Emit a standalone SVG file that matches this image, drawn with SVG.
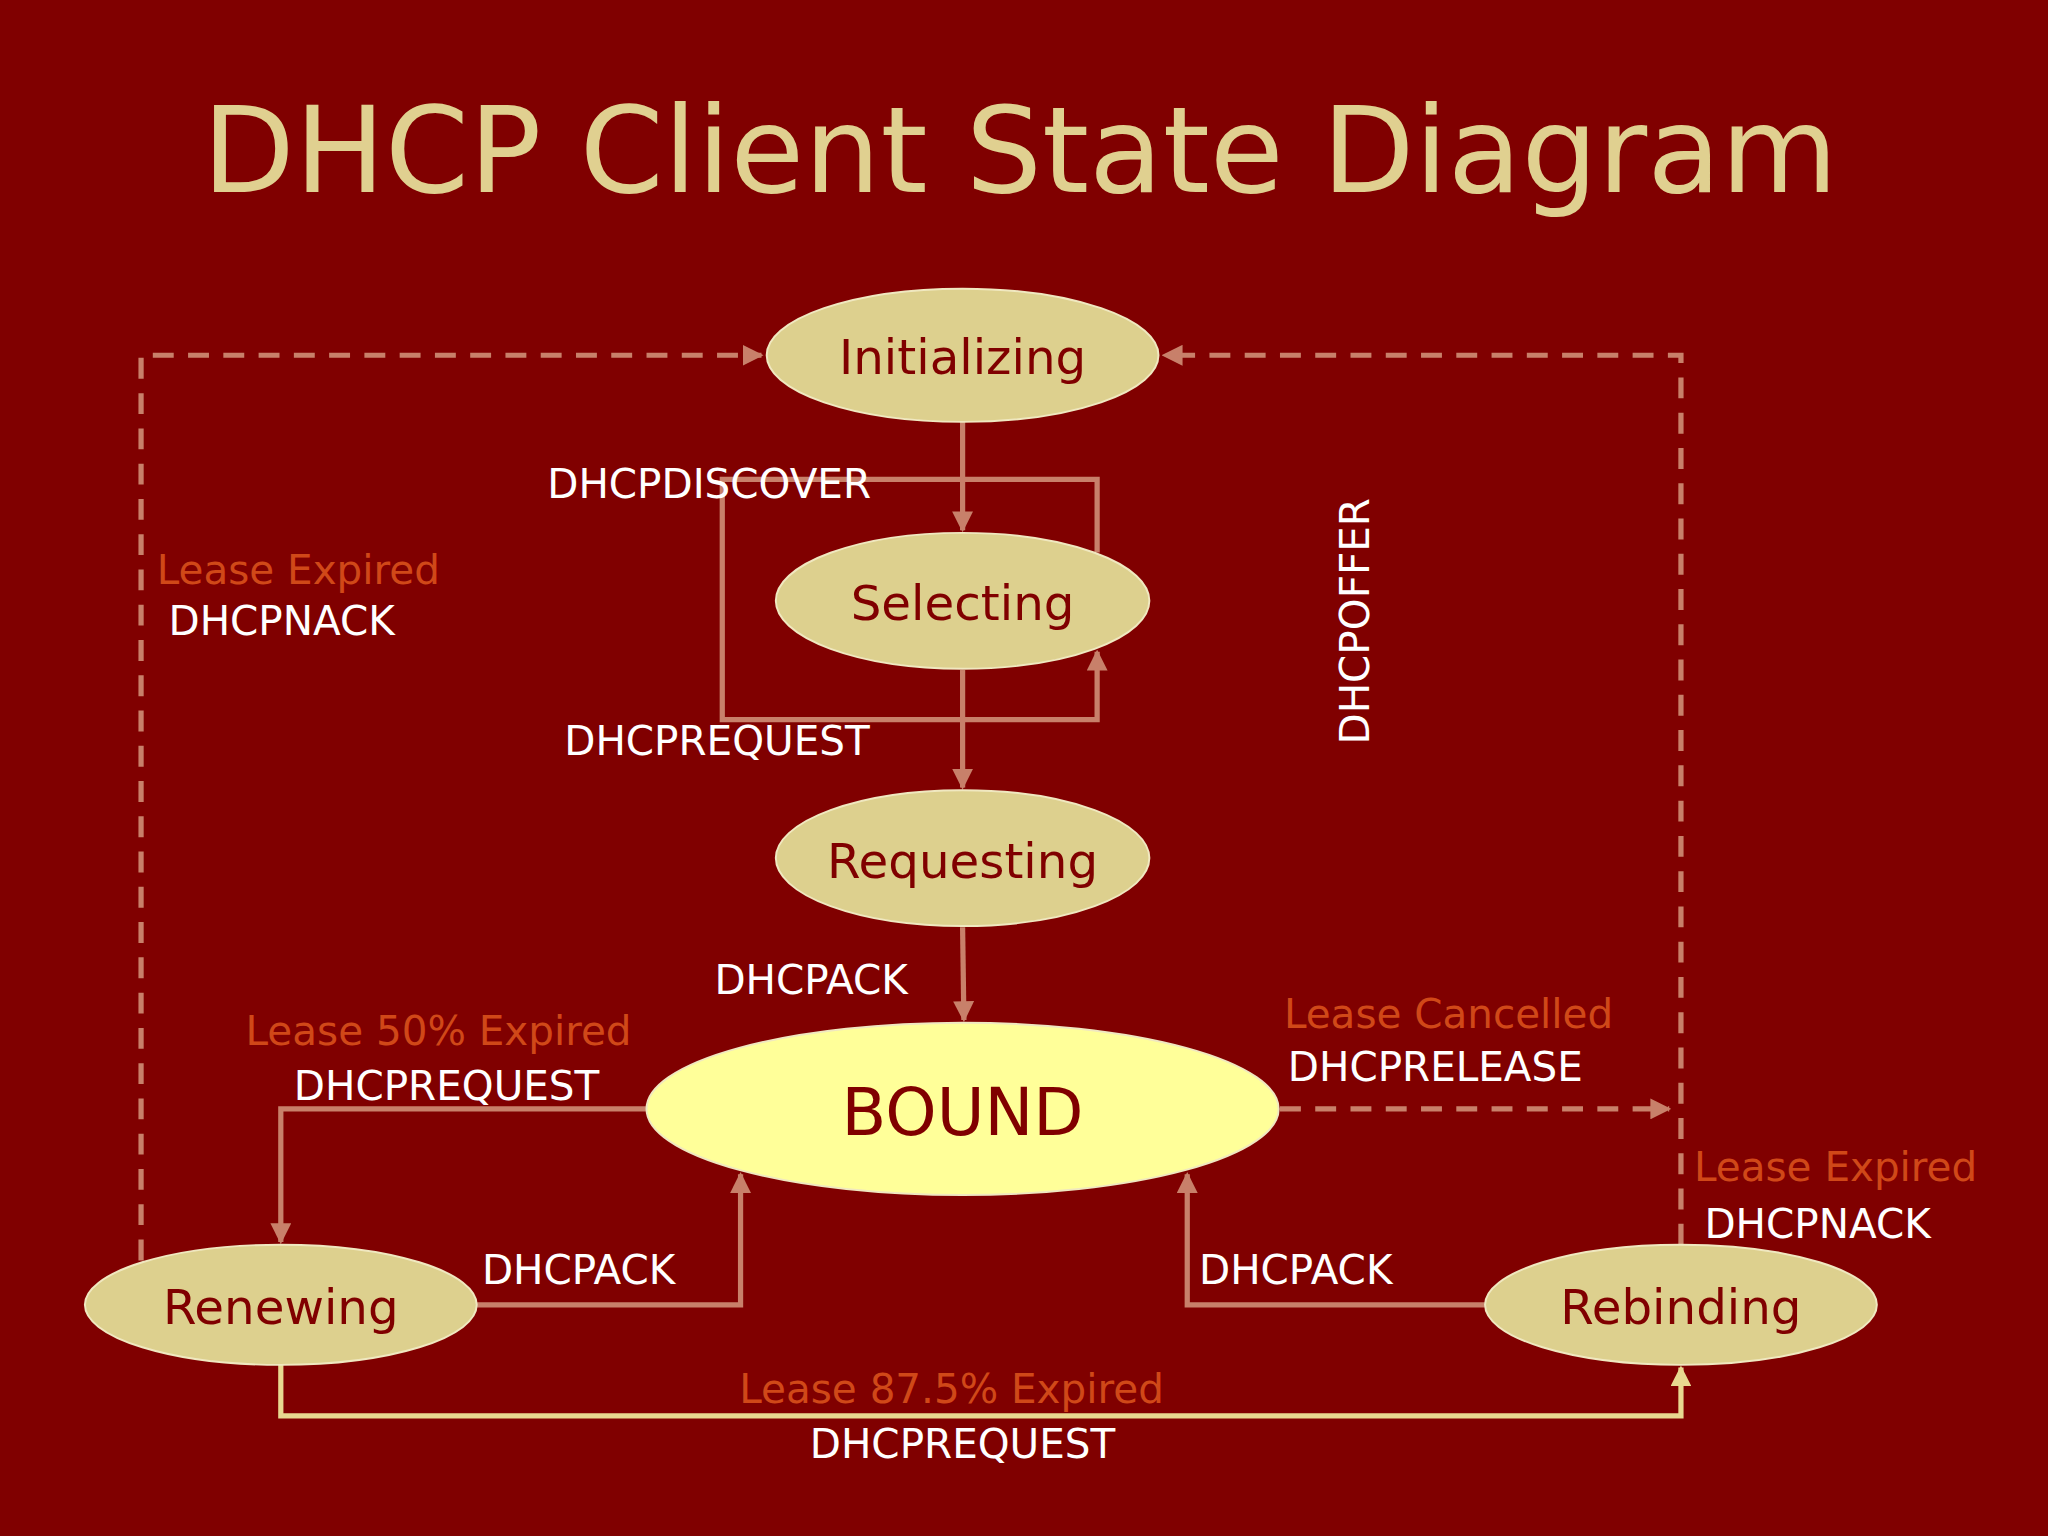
<svg xmlns="http://www.w3.org/2000/svg" width="2048" height="1536" viewBox="0 0 2048 1536">
<style>
.n{fill:#ddd08e;stroke:#f0e8c0;stroke-width:1.5}
.nt{font-family:"DejaVu Sans",Verdana,sans-serif;font-size:37px;fill:#800000;text-anchor:middle}
.c{fill:none;stroke:#c8806a;stroke-width:4}
.d{stroke-dasharray:16 11}
.w{font-family:"DejaVu Sans",Verdana,sans-serif;font-size:31px;fill:#ffffff}
.o{font-family:"DejaVu Sans",Verdana,sans-serif;font-size:31px;fill:#d04818}
</style>
<defs>
<marker id="a" viewBox="0 0 10 10" refX="9" refY="5" markerWidth="4" markerHeight="4" orient="auto"><path d="M0,0L10,5L0,10z" fill="#c8806a"/></marker>
<marker id="b" viewBox="0 0 10 10" refX="9" refY="5" markerWidth="4" markerHeight="4" orient="auto"><path d="M0,0L10,5L0,10z" fill="#e8d890"/></marker>
</defs>
<rect width="2048" height="1536" fill="#800000"/>
<g transform="scale(1.3061)">
<text x="781" y="147" font-family="DejaVu Sans,Verdana,sans-serif" font-size="92" fill="#e0d090" text-anchor="middle">DHCP Client State Diagram</text>
<g id="connectors">
<path class="c d" d="M108,965V272H583" marker-end="url(#a)"/>
<path class="c d" d="M1287,953V272H891" marker-end="url(#a)"/>
<path class="c d" d="M980,849H1278" marker-end="url(#a)"/>
<path class="c" d="M737,323V406" marker-end="url(#a)"/>
<path class="c" d="M840,423V367H553V551H840V499" marker-end="url(#a)"/>
<path class="c" d="M737,513V603" marker-end="url(#a)"/>
<path class="c" d="M737,710L738,781" marker-end="url(#a)"/>
<path class="c" d="M497,849H215V951" marker-end="url(#a)"/>
<path class="c" d="M365,999H567V899" marker-end="url(#a)"/>
<path class="c" d="M1137,999H909V899" marker-end="url(#a)"/>
<path class="c" style="stroke:#e8d890" d="M215,1045V1084H1287V1047" marker-end="url(#b)"/>
</g>
<g id="initializing"><ellipse class="n" cx="737" cy="272" rx="150" ry="51"/><text class="nt" x="737" y="286">Initializing</text></g>
<g id="selecting"><ellipse class="n" cx="737" cy="460" rx="143" ry="52"/><text class="nt" x="737" y="475">Selecting</text></g>
<g id="requesting"><ellipse class="n" cx="737" cy="657" rx="143" ry="52"/><text class="nt" x="737" y="672">Requesting</text></g>
<g id="bound"><ellipse class="n" style="fill:#ffff99" cx="737" cy="849" rx="242" ry="66"/><text class="nt" style="font-size:50px" x="737" y="869">BOUND</text></g>
<g id="renewing"><ellipse class="n" cx="215" cy="999" rx="150" ry="46"/><text class="nt" x="215" y="1014">Renewing</text></g>
<g id="rebinding"><ellipse class="n" cx="1287" cy="999" rx="150" ry="46"/><text class="nt" x="1287" y="1014">Rebinding</text></g>
<g id="labels">
<text class="w" x="419" y="381">DHCPDISCOVER</text>
<text class="w" x="432" y="578">DHCPREQUEST</text>
<text class="w" transform="translate(1048,570) rotate(-90)">DHCPOFFER</text>
<text class="o" x="120" y="447">Lease Expired</text>
<text class="w" x="129" y="486">DHCPNACK</text>
<text class="w" x="547" y="761">DHCPACK</text>
<text class="o" x="188" y="800">Lease 50% Expired</text>
<text class="w" x="225" y="842">DHCPREQUEST</text>
<text class="o" x="983" y="787">Lease Cancelled</text>
<text class="w" x="986" y="828">DHCPRELEASE</text>
<text class="o" x="1297" y="904">Lease Expired</text>
<text class="w" x="1305" y="948">DHCPNACK</text>
<text class="w" x="369" y="983">DHCPACK</text>
<text class="w" x="918" y="983">DHCPACK</text>
<text class="o" x="566" y="1074">Lease 87.5% Expired</text>
<text class="w" x="620" y="1116">DHCPREQUEST</text>
</g>
</g>
</svg>
